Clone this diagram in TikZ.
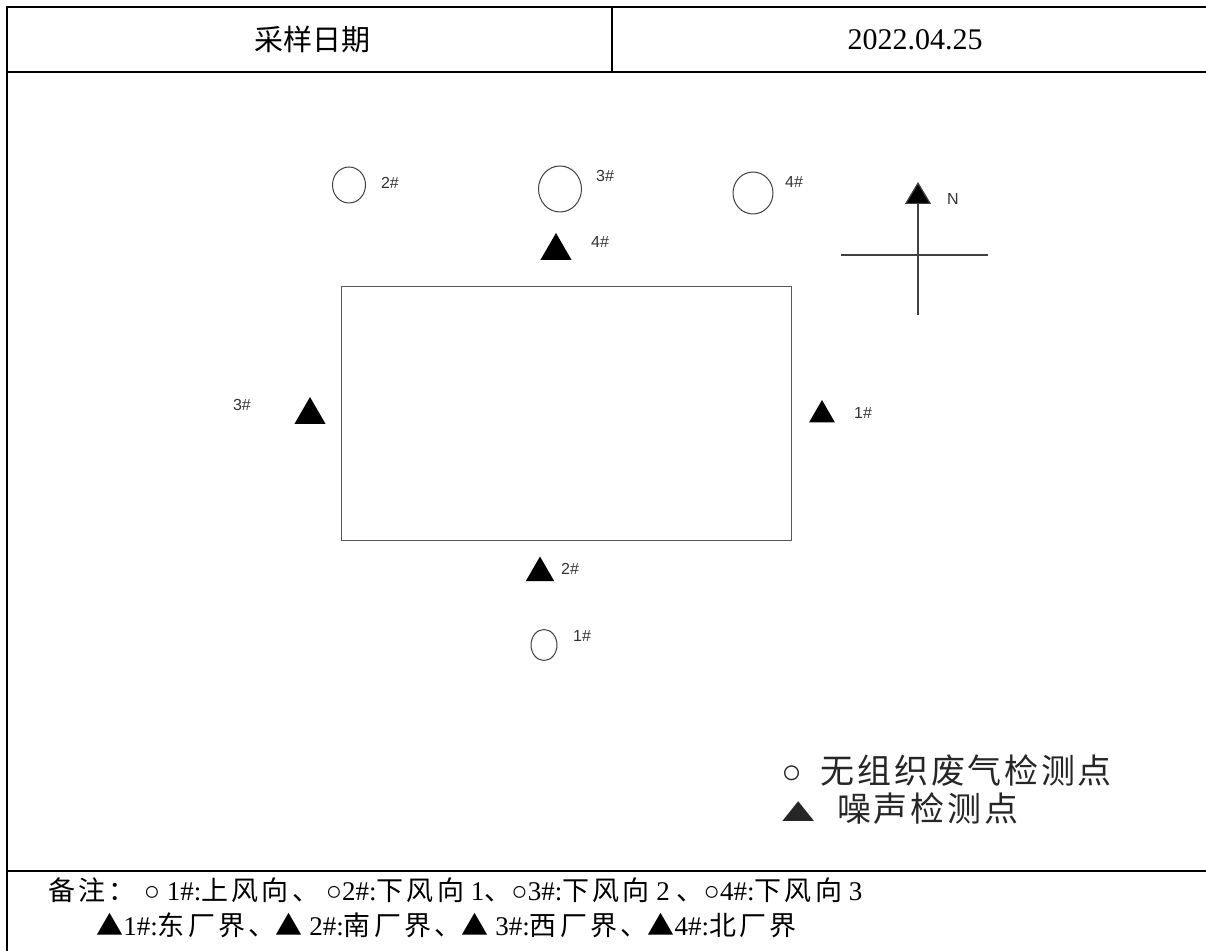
\documentclass[tikz,border=0pt]{standalone}
\usepackage{fontspec}
\setmainfont{Liberation Serif}
\newfontfamily\cjk{Noto Sans CJK SC}
\newfontfamily\cjkwide[LetterSpace=8]{Noto Sans CJK SC}
\newfontfamily\cjknote[LetterSpace=12]{Noto Sans CJK SC}
\newfontfamily\lab{Liberation Sans}
\usetikzlibrary{arrows.meta, shapes.geometric}

\begin{document}
\begin{tikzpicture}[x=0.5pt,y=-0.5pt]
\useasboundingbox (0,0) rectangle (1206,951);

% table frame
\draw[line width=1pt] (1206,7) -- (7,7) -- (7,951);
\draw[line width=1pt] (7,72) -- (1206,72);
\draw[line width=1pt] (612,7) -- (612,72);
\draw[line width=1pt] (7,871) -- (1206,871);

\node (date) at (312,40) {\cjk\fontsize{14.5}{16}\selectfont 采样日期};
\node (dateval) at (915,40) {\fontsize{15}{17}\selectfont 2022.04.25};

% plant outline
\node (site) at (566,414) [draw=black!65,line width=0.5pt,inner sep=0,minimum width=225pt,minimum height=127pt] {};

\begin{scope}[
    every node/.style={ellipse,draw=black!75,line width=0.5pt,inner sep=0}]
    \node (g1) at (544,645) [minimum width=13pt,minimum height=15.5pt] {};
    \node (g2) at (349,185) [minimum width=16.5pt,minimum height=18pt] {};
    \node (g3) at (560,189) [minimum width=21.5pt,minimum height=23pt] {};
    \node (g4) at (753,193) [minimum width=20pt,minimum height=21pt] {};
\end{scope}

\begin{scope}[
    every node/.style={regular polygon,regular polygon sides=3,fill=black,inner sep=0}]
    \node (n1) at (822,415) [minimum size=15pt] {};
    \node (n2) at (540,573) [minimum size=16.5pt] {};
    \node (n3) at (310,415) [minimum size=18pt] {};
    \node (n4) at (556,251) [minimum size=18pt] {};
\end{scope}

% point numbers
\begin{scope}[every node/.style={font=\lab\fontsize{8}{9}\selectfont,text=black!80,inner sep=0}]
    \node (g1l) at (582,636) {1\#};
    \node (g2l) at (390,183) {2\#};
    \node (g3l) at (605,176) {3\#};
    \node (g4l) at (794,182) {4\#};
    \node (n1l) at (863,413) {1\#};
    \node (n2l) at (570,569) {2\#};
    \node (n3l) at (242,405) {3\#};
    \node (n4l) at (600,242) {4\#};
\end{scope}

% compass
\coordinate (ntip) at (918,182);
\coordinate (sbot) at (918,315);
\coordinate (wend) at (841,255);
\coordinate (eend) at (988,255);
\draw[black!75,line width=0.6pt,-{Triangle[width=13pt,length=11pt,fill=black]}] (sbot) -- (ntip);
\draw[black!75,line width=0.6pt] (wend) -- (eend);
\node (north) at (953,199) [font=\lab\fontsize{8}{9}\selectfont,text=black!80] {N};

% legend
\begin{scope}[every node/.style={anchor=west,inner sep=0,font=\fontsize{17}{20}\selectfont,text=black!85}]
    \node (leg1) at (781,771) {{\lab ○}\hspace{9.5pt}{\cjkwide 无组织废气检测点}};
    \node (leg2) at (771,809) {\scalebox{1.6}[1]{\lab ▲}\hspace{6pt}{\cjkwide 噪声检测点}};
\end{scope}

% remarks
\begin{scope}[every node/.style={anchor=west,inner sep=0,font=\fontsize{13.5}{15}\selectfont}]
    \node (note1) at (48,890) {{\cjknote 备注：}\hspace{4pt}○ 1\#:{\cjknote 上风向、} ○2\#:{\cjknote 下风向} 1{\cjknote 、}○3\#:{\cjknote 下风向} 2 {\cjknote 、}○4\#:{\cjknote 下风向} 3};
    \node (note2) at (96,925) {{\cjk ▲}1\#:{\cjknote 东厂界、}{\cjk ▲} 2\#:{\cjknote 南厂界、}{\cjk ▲} 3\#:{\cjknote 西厂界、}{\cjk ▲}4\#:{\cjknote 北厂界}};
\end{scope}
\end{tikzpicture}
\end{document}
